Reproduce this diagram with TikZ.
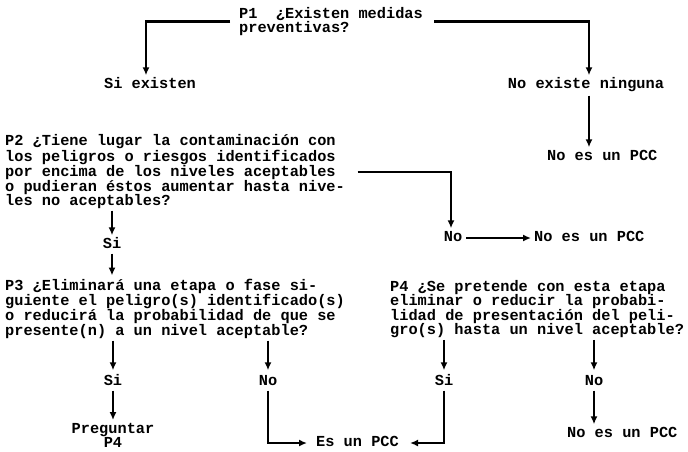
\documentclass[tikz,border=0pt]{standalone}
\usepackage{fontspec}
\newfontfamily\tw{Liberation Mono}
\usetikzlibrary{arrows.meta,calc}
\begin{document}
\begin{tikzpicture}[x=1pt,y=-1pt,
  blk/.style={font=\tw\bfseries\fontsize{15.3}{14.3}\selectfont, inner sep=0pt, align=left},
  txt/.style={blk, text height=10pt, text depth=3pt},
  arr/.style={line width=2.2pt, -{Latex[length=8pt,width=7pt]}}]
\useasboundingbox (0,0) rectangle (688,451);
% nodes
\node[blk,anchor=west] (p1) at (239,21.5) {P1\ \ ¿Existen medidas\\preventivas?};
\node[txt] (siex) at (150,85) {Si existen};
\node[txt] (noex) at (586,85) {No existe ninguna};
\node[txt,anchor=west] (nopcc1) at (547,157) {No es un PCC};
\node[blk,anchor=west] (p2) at (5,171.6) {P2 ¿Tiene lugar la contaminación con\\los peligros o riesgos identificados\\por encima de los niveles aceptables\\o pudieran éstos aumentar hasta nive-\\les no aceptables?};
\node[txt] (si2) at (112,245) {Si};
\node[txt] (no2) at (453,238) {No};
\node[txt,anchor=west] (nopcc2) at (534,238) {No es un PCC};
\node[blk,anchor=west] (p3) at (5,308.5) {P3 ¿Eliminará una etapa o fase si-\\guiente el peligro(s) identificado(s)\\o reducirá la probabilidad de que se\\presente(n) a un nivel aceptable?};
\node[blk,anchor=west] (p4) at (390,309) {P4 ¿Se pretende con esta etapa\\eliminar o reducir la probabi-\\lidad de presentación del peli-\\gro(s) hasta un nivel aceptable?};
\node[txt] (si3) at (113,382) {Si};
\node[txt] (no3) at (268,382) {No};
\node[txt] (si4) at (444,382) {Si};
\node[txt] (no4) at (594,382) {No};
\node[blk,align=center] (preg) at (113,435.5) {Preguntar\\P4};
\node[txt,anchor=west] (espcc) at (316,443) {Es un PCC};
\node[txt,anchor=west] (nopcc3) at (567,434) {No es un PCC};
% connectors
\draw[arr,shorten <=9pt,shorten >=3pt] (p1.west) -| ([xshift=-4pt]siex.north);
\draw[arr,shorten <=11pt,shorten >=3pt] (p1.east) -| ([xshift=3pt]noex.north);
\draw[arr,shorten <=4pt,shorten >=3pt] ([xshift=3pt]noex.south) -- ([xshift=3pt]noex.south |- nopcc1.north);
\draw[arr,shorten <=2pt,shorten >=3pt] (si2 |- p2.south) -- (si2.north);
\draw[arr,shorten <=2pt,shorten >=3pt] (si2.south) -- (si2 |- p3.north);
\draw[arr,shorten <=12.6pt,shorten >=3pt] (p2.east) -| ([xshift=-2pt]no2.north);
\draw[arr,shorten <=4pt,shorten >=3pt] (no2.east) -- (nopcc2.west);
\draw[arr,shorten <=2pt,shorten >=5pt] (si3 |- p3.south) -- (si3.north);
\draw[arr,shorten <=2pt,shorten >=5pt] (no3 |- p3.south) -- (no3.north);
\draw[arr,shorten <=2pt,shorten >=5pt] (si4 |- p4.south) -- (si4.north);
\draw[arr,shorten <=2pt,shorten >=5pt] (no4 |- p4.south) -- (no4.north);
\draw[arr,shorten <=2pt,shorten >=3pt] (si3.south) -- (si3 |- preg.north);
\draw[arr,shorten <=2pt,shorten >=9pt] (no3.south) |- (espcc.west);
\draw[arr,shorten <=2pt,shorten >=11pt] (si4.south) |- (espcc.east);
\draw[arr,shorten <=2pt,shorten >=3pt] (no4.south) -- (no4 |- nopcc3.north);
\end{tikzpicture}
\end{document}
